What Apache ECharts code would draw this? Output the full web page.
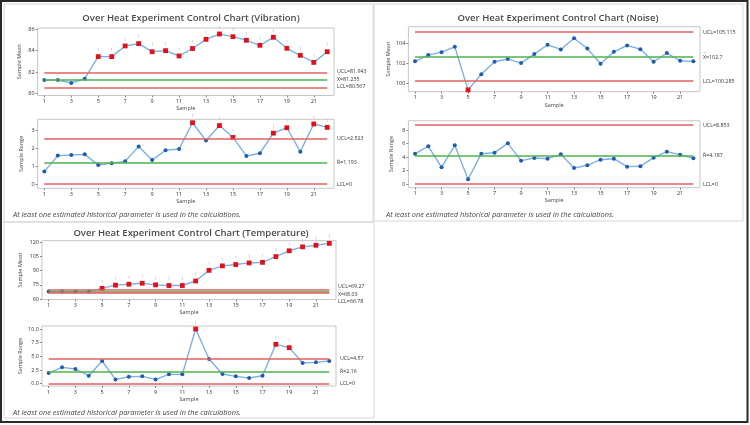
<!DOCTYPE html>
<html><head><meta charset="utf-8">
<script src="https://cdn.jsdelivr.net/npm/echarts@6/dist/echarts.min.js"></script>
<style>html,body{margin:0;padding:0;background:#fff}#c{width:750px;height:425px}</style>
</head><body><div id="c"></div>
<script>
const samples = ['1','2','3','4','5','6','7','8','9','10','11','12','13','14','15','16','17','18','19','20','21','22'];

const vibMean = [81.25,81.25,80.97,81.37,83.44,83.44,84.44,84.66,83.9,84.0,83.5,84.2,85.06,85.56,85.31,84.97,84.5,85.25,84.22,83.56,82.9,83.9];
const vibRange = [0.69,1.58,1.61,1.65,1.05,1.16,1.26,2.08,1.33,1.88,1.95,3.41,2.42,3.25,2.59,1.56,1.71,2.83,3.13,1.8,3.34,3.15];
const noiseMean = [102.2,102.82,103.11,103.64,99.38,100.92,102.16,102.43,102.03,102.92,103.84,103.38,104.49,103.48,101.97,103.15,103.77,103.41,102.16,103.02,102.26,102.2];
const noiseRange = [4.49,5.58,2.47,5.73,0.69,4.49,4.64,6.02,3.46,3.85,3.75,4.4,2.37,2.77,3.6,3.75,2.57,2.62,3.9,4.79,4.35,3.8];
const tempMean = [68.0,68.0,68.0,68.0,71.2,74.6,75.6,76.6,74.9,74.2,74.2,79.0,90.2,94.9,96.3,98.0,98.6,104.7,110.8,114.9,116.6,118.6];
const tempRange = [1.95,2.99,2.68,1.46,4.15,0.79,1.28,1.34,0.79,1.71,1.71,10.0,4.51,1.77,1.34,1.04,1.46,7.2,6.59,3.78,3.9,4.15];

// [UCL, centre, LCL]
const vibMeanLim = [81.943, 81.255, 80.567];
const vibRangeLim = [2.523, 1.193, 0];
const noiseMeanLim = [105.115, 102.7, 100.285];
const noiseRangeLim = [8.853, 4.187, 0];
const tempMeanLim = [69.27, 68.03, 66.78];
const tempRangeLim = [4.57, 2.16, 0];

const vibMeanTicks = [80,82,84,86];
const vibRangeTicks = [0,1,2,3];
const noiseMeanTicks = [100,102,104];
const noiseRangeTicks = [0,2,4,6,8];
const tempMeanTicks = [60,75,90,105,120];
const tempRangeTicks = [0,2.5,5,7.5,10];

const titles = ['Over Heat Experiment Control Chart (Vibration)','Over Heat Experiment Control Chart (Noise)','Over Heat Experiment Control Chart (Temperature)'];
const footnote = 'At least one estimated historical parameter is used in the calculations.';

const FF = '"Open Sans", "Liberation Sans", sans-serif';
const RED = '#e2605f', GREEN = '#4fb24f', LINE = '#7db1e4', BLUE = '#1f5cae', PTRED = '#e3101a';

const grids = [], xAxes = [], yAxes = [], series = [], graphics = [];

function panel(i, rect, data, lim, ticks, range, yName, yGap, xGap, fmt) {
  grids.push({left: rect[0], top: rect[1], width: rect[2], height: rect[3], show: true, borderColor: '#c6c6c6', borderWidth: 1});
  xAxes.push({type: 'category', gridIndex: i, data: samples, boundaryGap: true,
    axisLine: {show: false, onZero: false},
    axisTick: {show: true, alignWithLabel: true, interval: 1, length: 2, lineStyle: {color: '#888'}},
    axisLabel: {interval: 1, fontSize: 5.5, color: '#333', margin: 3, fontFamily: FF},
    splitLine: {show: false},
    name: 'Sample', nameLocation: 'middle', nameGap: xGap, nameTextStyle: {fontSize: 5.5, color: '#444', fontFamily: FF}});
  yAxes.push({type: 'value', gridIndex: i, min: range[0], max: range[1],
    axisLine: {show: false},
    axisTick: {show: true, length: 2, customValues: ticks, lineStyle: {color: '#888'}},
    axisLabel: {customValues: ticks, fontSize: 5.5, color: '#333', margin: 3, fontFamily: FF, formatter: fmt || (v => String(v))},
    splitLine: {show: false},
    name: yName, nameLocation: 'middle', nameGap: yGap, nameRotate: 90,
    nameTextStyle: {fontSize: 5.5, color: '#444', fontFamily: FF}});
  const ml = (v, c) => [{coord: [0, v], lineStyle: {color: c, width: 1.5, type: 'solid'}}, {coord: [samples.length - 1, v]}];
  series.push({type: 'line', xAxisIndex: i, yAxisIndex: i, data: [], z: 1, silent: true,
    markLine: {symbol: 'none', silent: true, animation: false, label: {show: false},
      data: [ml(lim[0], RED), ml(lim[1], GREEN), ml(lim[2], RED)]}});
  series.push({type: 'line', xAxisIndex: i, yAxisIndex: i, z: 3, animation: false, showAllSymbol: true,
    lineStyle: {color: LINE, width: 1.4},
    data: data.map(v => {
      const out = v > lim[0] || v < lim[2];
      return {value: v, symbol: out ? 'rect' : 'circle', symbolSize: out ? 4.8 : 4,
        itemStyle: {color: out ? PTRED : BLUE},
        label: {show: out, formatter: '1', position: 'top', distance: 2, fontSize: 4, color: '#a0a0a0', fontFamily: FF}};
    })});
}

panel(0, [37.6, 28, 296.4, 67.5], vibMean, vibMeanLim, vibMeanTicks, [79.8, 86.12], 'Sample Mean', 15, 10);
panel(1, [37.6, 119.3, 296.4, 69], vibRange, vibRangeLim, vibRangeTicks, [-0.24, 3.6], 'Sample Range', 13, 10);
panel(2, [408.4, 26.7, 291.6, 65], noiseMean, noiseMeanLim, noiseMeanTicks, [99.2, 105.63], 'Sample Mean', 17, 11);
panel(3, [408.4, 120.7, 291.6, 67], noiseRange, noiseRangeLim, noiseRangeTicks, [-0.55, 9.38], 'Sample Range', 14, 10);
panel(4, [42, 240.7, 294, 58.8], tempMean, tempMeanLim, tempMeanTicks, [59.5, 121.4], 'Sample Mean', 19, 10);
panel(5, [42, 326, 294, 60], tempRange, tempRangeLim, tempRangeTicks, [-0.42, 10.55], 'Sample Range', 19, 10, v => v.toFixed(1));

function txt(x, y, s, size, opts) {
  graphics.push(Object.assign({type: 'text', x: x, y: y, silent: true,
    style: Object.assign({text: s, fill: '#333', fontSize: size, fontFamily: FF, verticalAlign: 'middle', align: 'left'}, opts || {})}));
}
// frames
graphics.push({type: 'rect', shape: {x: 4, y: 4, width: 369, height: 218}, style: {fill: null, stroke: '#d6d6d6', lineWidth: 1}, silent: true});
graphics.push({type: 'rect', shape: {x: 374, y: 4, width: 369, height: 217}, style: {fill: null, stroke: '#d6d6d6', lineWidth: 1}, silent: true});
graphics.push({type: 'rect', shape: {x: 4, y: 222, width: 370, height: 196}, style: {fill: null, stroke: '#d6d6d6', lineWidth: 1}, silent: true});
graphics.push({type: 'rect', shape: {x: 1, y: 1, width: 746.5, height: 421}, style: {fill: null, stroke: '#2a2a2a', lineWidth: 2}, silent: true});

// titles
const tfont = {fill: '#4a4a4a', fontWeight: 600, align: 'center'};
txt(191, 18, titles[0], 9.5, tfont);
txt(558, 18, titles[1], 9.5, tfont);
txt(191, 233.5, titles[2], 9.5, tfont);

// footnotes
const ffont = {fill: '#444', fontStyle: 'italic'};
txt(13, 215, footnote, 7.4, ffont);
txt(386, 215, footnote, 7.4, ffont);
txt(13, 413, footnote, 7.4, ffont);

// control limit labels
function limLabels(x, yU, yC, yL, lim, sym) {
  txt(x, yU, 'UCL=' + lim[0], 5.3);
  txt(x + 0.6, yC - 4.6, sym === 'X' ? '=' : '_', 4.2);
  txt(x, yC, sym + '=' + lim[1], 5.3);
  txt(x, yL, 'LCL=' + lim[2], 5.3);
}
limLabels(337, 71, 79, 86.7, vibMeanLim, 'X');
limLabels(337, 138.3, 162.3, 184, vibRangeLim, 'R');
limLabels(703, 32, 57, 81, noiseMeanLim, 'X');
limLabels(703, 125, 155.7, 184, noiseRangeLim, 'R');
limLabels(338, 286.7, 294, 301, tempMeanLim, 'X');
limLabels(340, 358.3, 371.7, 383.3, tempRangeLim, 'R');

const chart = echarts.init(document.getElementById('c'), null, {renderer: 'canvas'});
chart.setOption({animation: false, backgroundColor: '#fff', grid: grids, xAxis: xAxes, yAxis: yAxes, series: series, graphic: graphics});
</script></body></html>
